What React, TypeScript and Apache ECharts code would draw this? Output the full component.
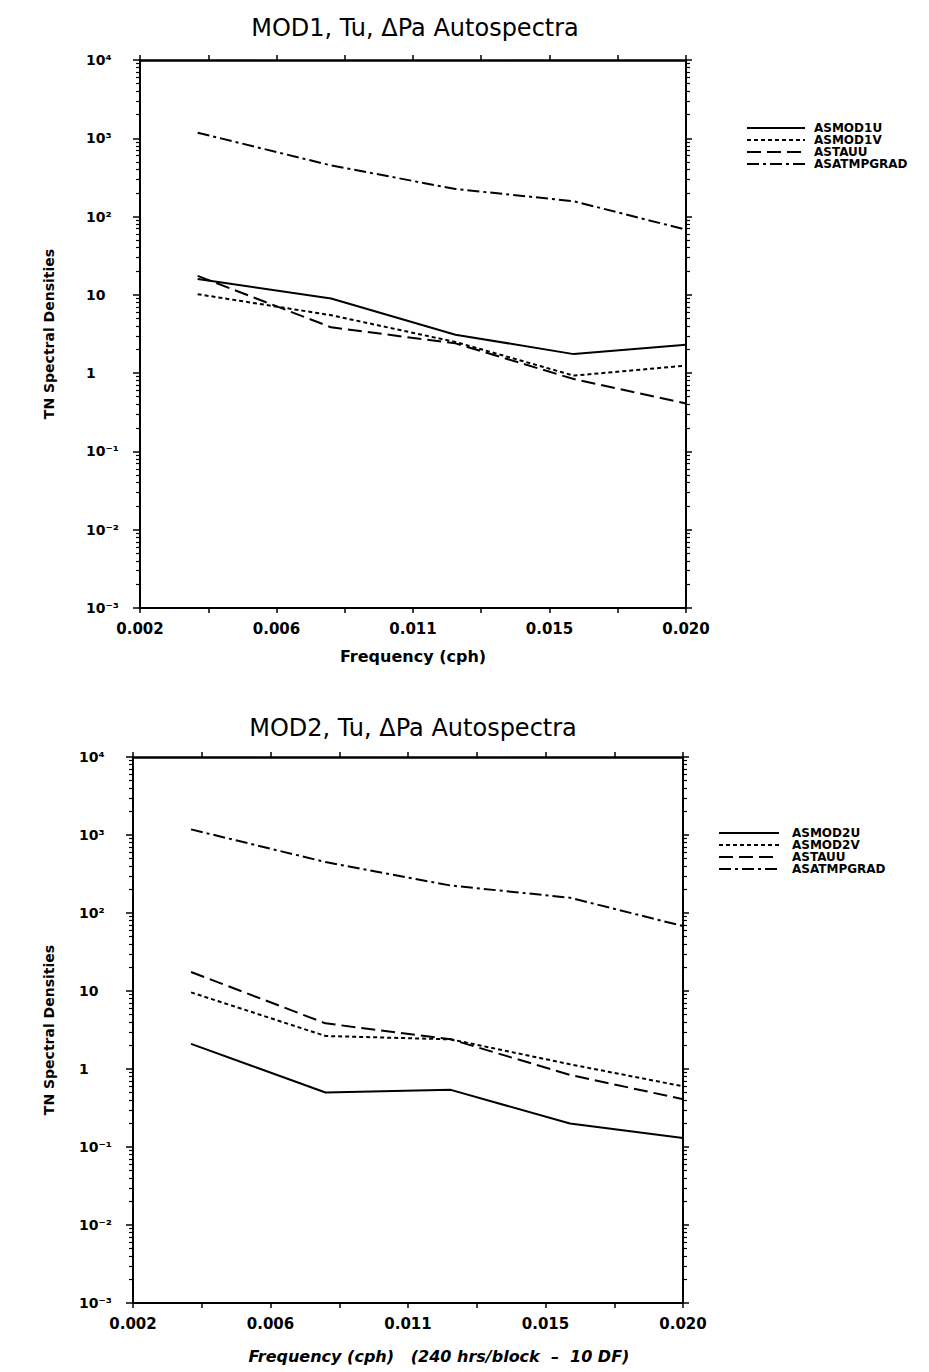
import React, { useEffect, useRef } from "react";
import * as echarts from "echarts";

// ---- data ----
const FREQ = [0.0039, 0.0083, 0.0124, 0.0163, 0.02];
const ASMOD1U = [15.9, 9.0, 3.1, 1.75, 2.3];
const ASMOD1V = [10.2, 5.5, 2.5, 0.93, 1.25];
const ASTAUU = [17.5, 3.85, 2.4, 0.84, 0.41];
const ASATMPGRAD = [1180, 450, 225, 157, 68];
const ASMOD2U = [2.1, 0.5, 0.54, 0.2, 0.13];
const ASMOD2V = [9.6, 2.65, 2.4, 1.15, 0.6];

const X_TICK_VALUES = [0.002, 0.0065, 0.011, 0.0155, 0.02];
const X_TICK_LABELS = ["0.002", "0.006", "0.011", "0.015", "0.020"];
const X_MINOR_TICKS = [0.002, 0.00425, 0.0065, 0.00875, 0.011, 0.01325, 0.0155, 0.01775, 0.02];
const Y_TICK_EXP = [-3, -2, -1, 0, 1, 2, 3, 4];
const Y_TICK_LABELS = ["10⁻³", "10⁻²", "10⁻¹", "1", "10", "10²", "10³", "10⁴"];
// minor tick positions on a helper axis running 0..7 decades (0 = 10^-3)
const Y_MINOR_POS: number[] = [];
for (let d = 0; d < 7; d++) for (let k = 2; k <= 9; k++) Y_MINOR_POS.push(d + Math.log10(k));

const FONT = "DejaVu Sans";
const BLACK = "#000";

const STYLES: Record<string, number[] | "solid"> = {
  solid: "solid",
  dot: [4, 3],
  dash: [14, 6],
  dashdot: [12, 4, 3, 4],
};

function xLabel(v: number) {
  for (let i = 0; i < X_TICK_VALUES.length; i++) if (Math.abs(X_TICK_VALUES[i] - v) < 1e-7) return X_TICK_LABELS[i];
  return "";
}
function yLabel(v: number) {
  const e = Math.round(Math.log10(v));
  const i = Y_TICK_EXP.indexOf(e);
  return i >= 0 ? Y_TICK_LABELS[i] : "";
}

type Panel = {
  left: number; top: number; width: number; height: number;
  xName: string; xNameItalic: boolean; xNameGap: number; yNameGap: number; xNamePad: number;
};

const PANELS: Panel[] = [
  { left: 140, top: 60, width: 546, height: 548, xName: "Frequency (cph)", xNameItalic: false, xNameGap: 40, yNameGap: 84, xNamePad: 0 },
  { left: 133, top: 757, width: 550, height: 546, xName: "Frequency (cph)   (240 hrs/block  –  10 DF)", xNameItalic: true, xNameGap: 45, yNameGap: 77, xNamePad: 62 },
];

function buildOption() {
  const grid: any[] = [];
  const xAxis: any[] = [];
  const yAxis: any[] = [];
  PANELS.forEach((p, pi) => {
    grid.push({ left: p.left, top: p.top, width: p.width, height: p.height, containLabel: false });
    const line = { show: true, onZero: false, lineStyle: { color: BLACK, width: 2 } };
    xAxis.push({
      type: "value", gridIndex: pi, position: "bottom", min: 0.002, max: 0.02,
      axisLine: line,
      axisTick: { show: true, customValues: X_MINOR_TICKS, length: 5, lineStyle: { color: BLACK, width: 1.5 } },
      axisLabel: { customValues: X_TICK_VALUES, formatter: xLabel, color: BLACK, fontFamily: FONT, fontSize: 15, fontWeight: "bold", margin: 13 },
      splitLine: { show: false },
      name: p.xName, nameLocation: "middle", nameGap: p.xNameGap,
      nameTextStyle: { color: BLACK, fontFamily: FONT, fontSize: 16, fontWeight: "bold", fontStyle: p.xNameItalic ? "italic" : "normal", padding: [0, 0, 0, p.xNamePad] },
    });
    xAxis.push({
      type: "value", gridIndex: pi, position: "top", min: 0.002, max: 0.02,
      axisLine: { show: true, onZero: false, lineStyle: { color: BLACK, width: 2.5 } },
      axisTick: { show: true, customValues: X_MINOR_TICKS, length: 5, lineStyle: { color: BLACK, width: 1.5 } },
      axisLabel: { show: false }, splitLine: { show: false },
    });
    yAxis.push({
      type: "log", logBase: 10, gridIndex: pi, position: "left", min: 0.001, max: 10000, interval: 1,
      axisLine: line,
      axisTick: { show: true, length: 7, lineStyle: { color: BLACK, width: 1.5 } },
      axisLabel: { formatter: yLabel, color: BLACK, fontFamily: FONT, fontSize: 14, fontWeight: "bold", align: "left", margin: 54 },
      splitLine: { show: false }, minorTick: { show: false },
      name: "TN Spectral Densities", nameLocation: "middle", nameGap: p.yNameGap, nameRotate: 90,
      nameTextStyle: { color: BLACK, fontFamily: FONT, fontSize: 14, fontWeight: "bold" },
    });
    yAxis.push({
      type: "log", logBase: 10, gridIndex: pi, position: "right", min: 0.001, max: 10000, interval: 1,
      axisLine: line,
      axisTick: { show: true, length: 6, lineStyle: { color: BLACK, width: 1.5 } },
      axisLabel: { show: false }, splitLine: { show: false },
    });
    yAxis.push({
      type: "value", gridIndex: pi, position: "left", min: 0, max: 7,
      axisLine: { show: false, onZero: false },
      axisTick: { show: true, customValues: Y_MINOR_POS, length: 4, lineStyle: { color: BLACK, width: 1.2 } },
      axisLabel: { show: false }, splitLine: { show: false },
    });
    yAxis.push({
      type: "value", gridIndex: pi, position: "right", min: 0, max: 7,
      axisLine: { show: false, onZero: false },
      axisTick: { show: true, customValues: Y_MINOR_POS, length: 4, lineStyle: { color: BLACK, width: 1.2 } },
      axisLabel: { show: false }, splitLine: { show: false },
    });
  });

  const mk = (name: string, vals: number[], style: string, pi: number) => ({
    type: "line", name, xAxisIndex: pi * 2, yAxisIndex: pi * 4,
    data: FREQ.map((f, i) => [f, vals[i]]),
    symbol: "none", silent: true,
    lineStyle: { color: BLACK, width: 2, type: STYLES[style] },
    itemStyle: { color: BLACK, opacity: 0 },
  });

  const series = [
    mk("ASMOD1U", ASMOD1U, "solid", 0),
    mk("ASMOD1V", ASMOD1V, "dot", 0),
    mk("ASTAUU", ASTAUU, "dash", 0),
    mk("ASATMPGRAD", ASATMPGRAD, "dashdot", 0),
    mk("ASMOD2U", ASMOD2U, "solid", 1),
    mk("ASMOD2V", ASMOD2V, "dot", 1),
    mk("ASTAUU", ASTAUU, "dash", 1),
    mk("ASATMPGRAD", ASATMPGRAD, "dashdot", 1),
  ];

  const legendBase = {
    orient: "vertical", itemHeight: 8, itemGap: 0, selectedMode: false,
    inactiveColor: BLACK, itemStyle: { opacity: 0 },
  };

  return {
    animation: false,
    backgroundColor: "#fff",
    grid, xAxis, yAxis, series,
    legend: [
      {
        ...legendBase, left: 741, top: 117, itemWidth: 58,
        data: ["ASMOD1U", "ASMOD1V", "ASTAUU", "ASATMPGRAD"],
        textStyle: { color: BLACK, fontFamily: FONT, fontSize: 12, fontWeight: "bold", padding: [0, 0, 0, 4] },
      },
      {
        ...legendBase, left: 713, top: 822, itemWidth: 60,
        data: ["ASMOD2U", "ASMOD2V", "ASTAUU", "ASATMPGRAD"],
        textStyle: { color: BLACK, fontFamily: FONT, fontSize: 12, fontWeight: "bold", padding: [0, 0, 0, 8] },
      },
    ],
    graphic: [
      { type: "text", x: 415, y: 28, style: { text: "MOD1, Tu, ΔPa Autospectra", fill: BLACK, font: `24px "${FONT}"`, align: "center", verticalAlign: "middle" } },
      { type: "text", x: 413, y: 728, style: { text: "MOD2, Tu, ΔPa Autospectra", fill: BLACK, font: `24px "${FONT}"`, align: "center", verticalAlign: "middle" } },
    ],
  };
}

export default function App() {
  const ref = useRef<HTMLDivElement>(null);
  useEffect(() => {
    if (!ref.current) return;
    const chart = echarts.init(ref.current, undefined, { renderer: "svg" });
    chart.setOption(buildOption() as any);
    return () => chart.dispose();
  }, []);
  return <div ref={ref} style={{ position: "fixed", left: 0, top: 0, width: 929, height: 1372, background: "#fff" }} />;
}
